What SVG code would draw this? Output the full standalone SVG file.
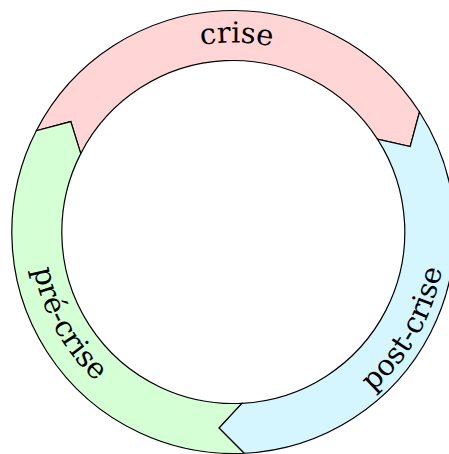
<svg xmlns="http://www.w3.org/2000/svg" xmlns:xlink="http://www.w3.org/1999/xlink" width="449" height="454" viewBox="0 0 449 454">
  <style>
    .seg { stroke: #000; stroke-width: 1.2; stroke-linejoin: miter; }
    .lbl { font-family: "DejaVu Serif", "Liberation Serif", serif; font-size: 29px; fill: #000; }
  </style>
  <defs>
    <path id="p-crise" d="M 44.84,212.19 A 189.5 189.5 0 0 1 422.34,218.78"/>
    <path id="p-pre" d="M 119.78,63.7 A 203 203 0 0 0 315.86,417.45"/>
    <path id="p-post" d="M 145.4,424.9 A 212 212 0 0 0 353.4,57.3"/>
  </defs>
  <rect width="449" height="454" fill="#fff"/>
  <g id="node-crise">
    <path class="seg" fill="#ffd5d5" d="M 36.29,130.77 A 221.5 221.5 0 0 1 419.49,112.01 L 410.21,146.48 L 377.46,139.10 A 171.5 171.5 0 0 0 80.76,153.62 L 70.78,121.55 Z"/>
    <text class="lbl" text-anchor="middle"><textPath xlink:href="#p-crise" href="#p-crise" startOffset="50%">crise</textPath></text>
  </g>
  <g id="node-post-crise">
    <path class="seg" fill="#d5f6ff" d="M 419.49,112.01 A 221.5 221.5 0 0 1 244.12,453.24 L 218.91,427.97 L 241.68,403.30 A 171.5 171.5 0 0 0 377.46,139.10 L 410.21,146.48 Z"/>
    <text class="lbl" text-anchor="middle"><textPath xlink:href="#p-post" href="#p-post" startOffset="50%">post-crise</textPath></text>
  </g>
  <g id="node-pre-crise">
    <path class="seg" fill="#d5ffd5" d="M 244.12,453.24 A 221.5 221.5 0 0 1 36.29,130.77 L 70.78,121.55 L 80.76,153.62 A 171.5 171.5 0 0 0 241.68,403.30 L 218.91,427.97 Z"/>
    <text class="lbl" text-anchor="middle"><textPath xlink:href="#p-pre" href="#p-pre" startOffset="50%">pré-crise</textPath></text>
  </g>
  <g id="connectors"/>
</svg>
